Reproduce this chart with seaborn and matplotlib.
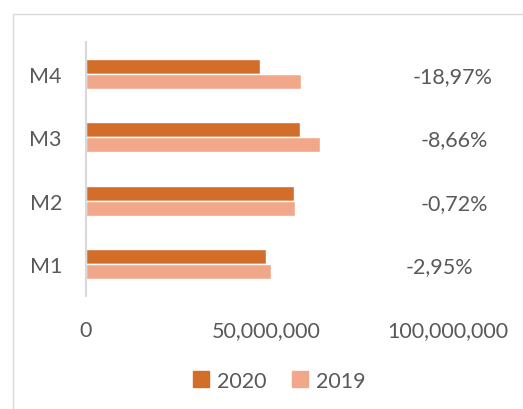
import matplotlib
matplotlib.use('Agg')
import matplotlib.pyplot as plt
import matplotlib.ticker as mticker
from matplotlib.patches import Rectangle
import numpy as np
import pandas as pd
import seaborn as sns

# values
months = ['M4', 'M3', 'M2', 'M1']
sales_2020 = [48.3e6, 59.2e6, 57.5e6, 49.7e6]
sales_2019 = [59.6e6, 64.8e6, 57.9e6, 51.2e6]
change_labels = ['-18,97%', '-8,66%', '-0,72%', '-2,95%']
x_ticks = [0, 50_000_000, 100_000_000]

c2020 = '#D26D2A'
c2019 = '#F1A88A'
txt = '#595959'
fs = 15.5

df = pd.DataFrame({
    'month': months * 2,
    'value': sales_2020 + sales_2019,
    'year': ['2020'] * len(months) + ['2019'] * len(months),
})

sns.set_style('white')
plt.rcParams['font.family'] = ['Lato', 'DejaVu Sans']

fig = plt.figure(figsize=(5.23, 4.10), dpi=100)
ax = fig.add_axes([85.5 / 523, 113 / 410, 362.3 / 523, 254 / 410])

sns.barplot(data=df, y='month', x='value', hue='year', order=months,
            hue_order=['2020', '2019'], palette={'2020': c2020, '2019': c2019},
            orient='h', width=0.47, gap=0, saturation=1, ax=ax)

ax.set_xlim(0, 100_000_000)
ax.set_ylim(3.5, -0.5)
ax.set_xticks(x_ticks)
ax.xaxis.set_major_formatter(mticker.FuncFormatter(lambda v, p: f'{int(v):,}'))
ax.tick_params(axis='both', length=0, labelsize=fs, labelcolor=txt)
ax.tick_params(axis='x', pad=17)
ax.tick_params(axis='y', pad=17)
ax.set_xlabel('')
ax.set_ylabel('')
for s in ['top', 'right', 'bottom']:
    ax.spines[s].set_visible(False)
ax.spines['left'].set_color('#d9d9d9')
ax.spines['left'].set_linewidth(1.5)

# percentage change labels on the right (text boxes)
label_x = [101.4e6, 101.9e6, 101.7e6, 97.6e6]
for i, lab in enumerate(change_labels):
    ax.text(label_x[i], i + 0.03, lab, ha='center', va='center',
            fontsize=fs, color=txt, clip_on=False)

ax.get_legend().remove()
handles = [Rectangle((0, 0), 1, 1, color=c2020), Rectangle((0, 0), 1, 1, color=c2019)]
fig.legend(handles, ['2020', '2019'], loc='center', bbox_to_anchor=(0.534, 0.069),
           ncol=2, frameon=False, fontsize=fs, labelcolor=txt,
           handlelength=0.75, handleheight=0.75, handletextpad=0.35, columnspacing=1.2)

# chart area border
fig.add_artist(Rectangle((13 / 523, -0.1), 1.2, 1 - 15 / 410 + 0.1,
                         transform=fig.transFigure, fill=False,
                         edgecolor='#d9d9d9', linewidth=1))

fig.savefig('out.png', dpi=100)
